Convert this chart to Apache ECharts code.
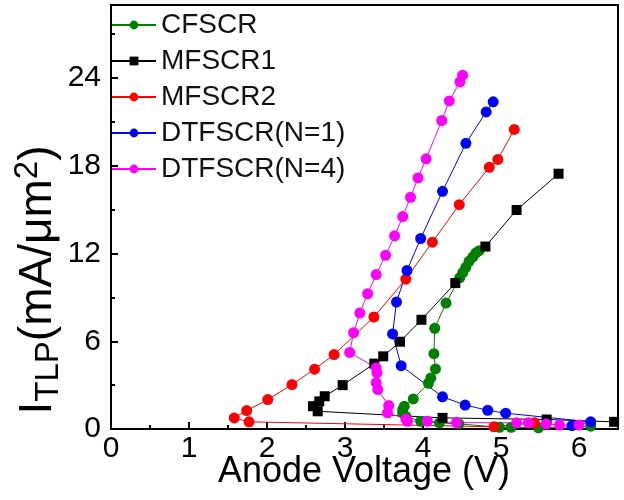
<!DOCTYPE html>
<html>
<head>
<meta charset="utf-8">
<script src="https://cdn.jsdelivr.net/npm/echarts@6/dist/echarts.min.js"></script>
<style>
  html, body { margin: 0; padding: 0; background: #fff; }
  #chart { width: 624px; height: 500px; }
</style>
</head>
<body>
<div id="chart"></div>
<script>
// TLP I-V curves: [anode voltage (V), current density (mA/um^2)]
const seriesNames = ['CFSCR', 'MFSCR1', 'MFSCR2', 'DTFSCR(N=1)', 'DTFSCR(N=4)'];

const cfscr = [
  [6.15, 0.19], [5.48, 0.08], [5.13, 0.12], [4.98, 0.12], [4.46, 0.35], [4.21, 0.42],
  [3.97, 0.53], [3.78, 0.87], [3.74, 1.10], [3.74, 1.33], [3.76, 1.56], [3.875, 2.06],
  [4.07, 3.13], [4.10, 3.49], [4.16, 4.11], [4.14, 5.15], [4.15, 6.89], [4.295, 8.61],
  [4.47, 10.34], [4.51, 10.70], [4.55, 11.06], [4.59, 11.47], [4.64, 11.78], [4.68, 12.05],
  [4.72, 12.20]
];

const mfscr1 = [
  [6.45, 0.49], [5.585, 0.65], [4.25, 0.76], [2.65, 1.21], [2.59, 1.56], [2.67, 1.89],
  [2.74, 2.24], [2.97, 3.00], [3.376, 4.47], [3.49, 4.97], [3.705, 5.97], [3.98, 7.47],
  [4.414, 9.98], [4.80, 12.48], [5.20, 14.98], [5.738, 17.46]
];

const mfscr2 = [
  [5.43, 0.42], [4.91, 0.15], [1.77, 0.49], [1.58, 0.76], [1.74, 1.26], [2.01, 2.01],
  [2.32, 3.04], [2.61, 4.09], [2.86, 5.09], [3.37, 7.66], [3.78, 10.25], [4.12, 12.78],
  [4.465, 15.34], [4.85, 17.90], [4.96, 18.44], [5.17, 20.49]
];

const dtfscr1 = [
  [5.91, 0.23], [6.15, 0.49], [5.06, 1.08], [4.83, 1.28], [4.54, 1.64], [4.25, 2.20],
  [3.72, 4.33], [3.61, 6.50], [3.66, 8.68], [3.795, 10.84], [3.97, 13.03], [4.25, 16.26],
  [4.55, 19.54], [4.81, 21.69], [4.90, 22.38]
];

const dtfscr4 = [
  [6.00, 0.27], [5.75, 0.27], [5.58, 0.34], [5.35, 0.42], [5.20, 0.42], [4.43, 0.44],
  [4.055, 0.53], [3.80, 0.53], [3.78, 0.68], [3.545, 1.11], [3.56, 1.60], [3.42, 2.70],
  [3.40, 3.17], [3.41, 3.84], [3.40, 4.18], [3.06, 5.24], [3.11, 6.59], [3.19, 7.93],
  [3.29, 9.25], [3.40, 10.56], [3.52, 11.88], [3.636, 13.21], [3.74, 14.53], [3.84, 15.85],
  [3.936, 17.17], [4.04, 18.48], [4.24, 21.10], [4.337, 22.44], [4.474, 23.74], [4.508, 24.20]
];

const xTickLabels = ['0', '1', '2', '3', '4', '5', '6'];
const yTickLabels = ['0', '6', '12', '18', '24'];

const seriesData = [cfscr, mfscr1, mfscr2, dtfscr1, dtfscr4];
const colors = ['#008000', '#000000', '#ff0000', '#0000ff', '#ff00ff'];
const symbols = ['circle', 'rect', 'circle', 'circle', 'circle'];

const FONT = '"Liberation Sans", Arial, sans-serif';

const chart = echarts.init(document.getElementById('chart'), null, { renderer: 'canvas' });

const option = {
  animation: false,
  backgroundColor: '#fff',
  grid: {
    left: 111, right: 6, top: 5, bottom: 71,
    show: true, borderColor: '#000', borderWidth: 2, backgroundColor: 'transparent'
  },
  legend: {
    orient: 'vertical',
    left: 111, top: 11, padding: 0,
    itemWidth: 44, itemHeight: 11, itemGap: 8,
    data: seriesNames,
    textStyle: { fontFamily: FONT, fontSize: 28, color: '#111', lineHeight: 28 }
  },
  xAxis: {
    type: 'value', min: 0, max: 6.5, interval: 1,
    axisLine: { lineStyle: { color: '#000', width: 2 } },
    axisTick: { inside: true, length: 7, lineStyle: { color: '#000', width: 2 } },
    minorTick: { show: true, splitNumber: 2, length: 4, lineStyle: { color: '#000', width: 2 } },
    splitLine: { show: false },
    axisLabel: {
      margin: 5, fontFamily: FONT, fontSize: 30, color: '#000',
      showMaxLabel: false,
      formatter: v => { const s = String(v); return xTickLabels.includes(s) ? s : ''; }
    }
  },
  yAxis: {
    type: 'value', min: 0, max: 29, interval: 6,
    axisLine: { lineStyle: { color: '#000', width: 2 } },
    axisTick: { inside: true, length: 7, lineStyle: { color: '#000', width: 2 } },
    minorTick: { show: true, splitNumber: 2, length: 4, lineStyle: { color: '#000', width: 2 } },
    splitLine: { show: false },
    axisLabel: {
      margin: 10, fontFamily: FONT, fontSize: 30, color: '#000',
      showMaxLabel: false,
      formatter: v => { const s = String(v); return yTickLabels.includes(s) ? s : ''; }
    }
  },
  graphic: [
    {
      type: 'text',
      x: 364, y: 472,
      style: {
        text: 'Anode Voltage (V)',
        font: '36px ' + FONT,
        fill: '#000', align: 'center', verticalAlign: 'middle'
      }
    },
    {
      type: 'text',
      x: 38, y: 280,
      rotation: Math.PI / 2,
      style: {
        text: '{n|I}{s|TLP}{n|(mA/μm}{p|2}{n|)}',
        align: 'center', verticalAlign: 'middle', fill: '#000',
        rich: {
          n: { fontFamily: FONT, fontSize: 46, lineHeight: 54, verticalAlign: 'middle', fill: '#000' },
          s: { fontFamily: FONT, fontSize: 33, lineHeight: 33, verticalAlign: 'bottom', fill: '#000' },
          p: { fontFamily: FONT, fontSize: 33, lineHeight: 33, verticalAlign: 'top', fill: '#000' }
        }
      }
    }
  ],
  series: seriesData.map((d, i) => ({
    name: seriesNames[i],
    type: 'line',
    data: d,
    symbol: symbols[i],
    symbolSize: symbols[i] === 'rect' ? 10 : 11,
    showAllSymbol: true,
    color: colors[i],
    lineStyle: { width: 1, color: colors[i] },
    itemStyle: { color: colors[i] },
    emphasis: { disabled: true }
  }))
};

chart.setOption(option);
</script>
</body>
</html>
